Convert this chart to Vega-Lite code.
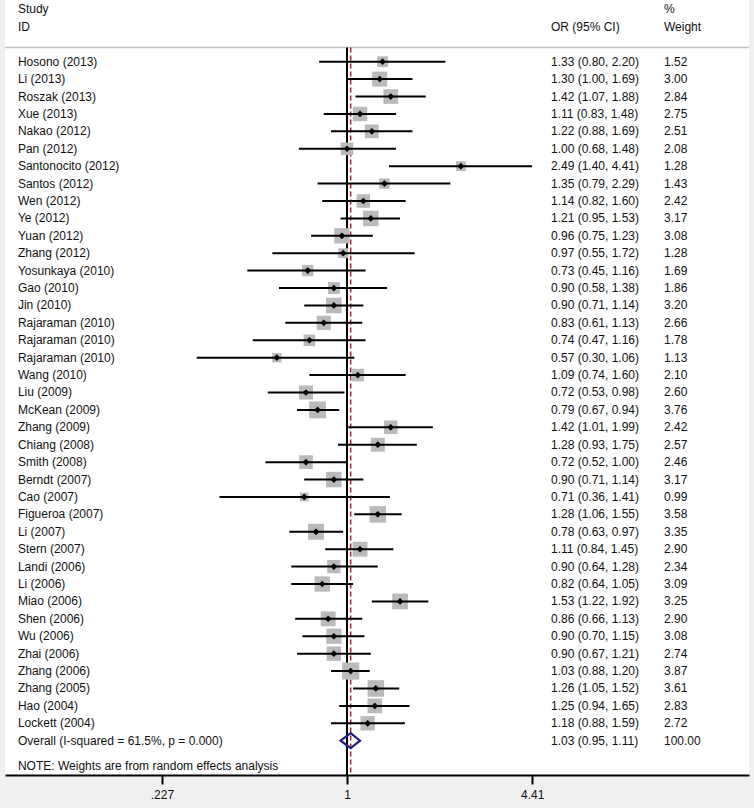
{
  "$schema": "https://vega.github.io/schema/vega-lite/v6.json",
  "width": 744,
  "height": 775,
  "autosize": {"type": "none"},
  "padding": {"left": 5, "top": 0, "right": 5, "bottom": 33},
  "background": "#f0f0f0",
  "config": {
    "view": {"fill": "white", "stroke": null},
    "font": "Liberation Sans",
    "text": {"font": "Liberation Sans", "fontSize": 12, "color": "#111111", "baseline": "middle", "align": "left"}
  },
  "datasets": {
    "rows": [
      {"study": "Hosono (2013)", "row": 0, "or": 1.33, "lo": 0.80, "hi": 2.20, "w": 1.52, "ci": "1.33 (0.80, 2.20)", "wt": "1.52", "kind": "study"},
      {"study": "Li (2013)", "row": 1, "or": 1.30, "lo": 1.00, "hi": 1.69, "w": 3.00, "ci": "1.30 (1.00, 1.69)", "wt": "3.00", "kind": "study"},
      {"study": "Roszak (2013)", "row": 2, "or": 1.42, "lo": 1.07, "hi": 1.88, "w": 2.84, "ci": "1.42 (1.07, 1.88)", "wt": "2.84", "kind": "study"},
      {"study": "Xue (2013)", "row": 3, "or": 1.11, "lo": 0.83, "hi": 1.48, "w": 2.75, "ci": "1.11 (0.83, 1.48)", "wt": "2.75", "kind": "study"},
      {"study": "Nakao (2012)", "row": 4, "or": 1.22, "lo": 0.88, "hi": 1.69, "w": 2.51, "ci": "1.22 (0.88, 1.69)", "wt": "2.51", "kind": "study"},
      {"study": "Pan (2012)", "row": 5, "or": 1.00, "lo": 0.68, "hi": 1.48, "w": 2.08, "ci": "1.00 (0.68, 1.48)", "wt": "2.08", "kind": "study"},
      {"study": "Santonocito (2012)", "row": 6, "or": 2.49, "lo": 1.40, "hi": 4.41, "w": 1.28, "ci": "2.49 (1.40, 4.41)", "wt": "1.28", "kind": "study"},
      {"study": "Santos (2012)", "row": 7, "or": 1.35, "lo": 0.79, "hi": 2.29, "w": 1.43, "ci": "1.35 (0.79, 2.29)", "wt": "1.43", "kind": "study"},
      {"study": "Wen (2012)", "row": 8, "or": 1.14, "lo": 0.82, "hi": 1.60, "w": 2.42, "ci": "1.14 (0.82, 1.60)", "wt": "2.42", "kind": "study"},
      {"study": "Ye (2012)", "row": 9, "or": 1.21, "lo": 0.95, "hi": 1.53, "w": 3.17, "ci": "1.21 (0.95, 1.53)", "wt": "3.17", "kind": "study"},
      {"study": "Yuan (2012)", "row": 10, "or": 0.96, "lo": 0.75, "hi": 1.23, "w": 3.08, "ci": "0.96 (0.75, 1.23)", "wt": "3.08", "kind": "study"},
      {"study": "Zhang (2012)", "row": 11, "or": 0.97, "lo": 0.55, "hi": 1.72, "w": 1.28, "ci": "0.97 (0.55, 1.72)", "wt": "1.28", "kind": "study"},
      {"study": "Yosunkaya (2010)", "row": 12, "or": 0.73, "lo": 0.45, "hi": 1.16, "w": 1.69, "ci": "0.73 (0.45, 1.16)", "wt": "1.69", "kind": "study"},
      {"study": "Gao (2010)", "row": 13, "or": 0.90, "lo": 0.58, "hi": 1.38, "w": 1.86, "ci": "0.90 (0.58, 1.38)", "wt": "1.86", "kind": "study"},
      {"study": "Jin (2010)", "row": 14, "or": 0.90, "lo": 0.71, "hi": 1.14, "w": 3.20, "ci": "0.90 (0.71, 1.14)", "wt": "3.20", "kind": "study"},
      {"study": "Rajaraman (2010)", "row": 15, "or": 0.83, "lo": 0.61, "hi": 1.13, "w": 2.66, "ci": "0.83 (0.61, 1.13)", "wt": "2.66", "kind": "study"},
      {"study": "Rajaraman (2010)", "row": 16, "or": 0.74, "lo": 0.47, "hi": 1.16, "w": 1.78, "ci": "0.74 (0.47, 1.16)", "wt": "1.78", "kind": "study"},
      {"study": "Rajaraman (2010)", "row": 17, "or": 0.57, "lo": 0.30, "hi": 1.06, "w": 1.13, "ci": "0.57 (0.30, 1.06)", "wt": "1.13", "kind": "study"},
      {"study": "Wang (2010)", "row": 18, "or": 1.09, "lo": 0.74, "hi": 1.60, "w": 2.10, "ci": "1.09 (0.74, 1.60)", "wt": "2.10", "kind": "study"},
      {"study": "Liu (2009)", "row": 19, "or": 0.72, "lo": 0.53, "hi": 0.98, "w": 2.60, "ci": "0.72 (0.53, 0.98)", "wt": "2.60", "kind": "study"},
      {"study": "McKean (2009)", "row": 20, "or": 0.79, "lo": 0.67, "hi": 0.94, "w": 3.76, "ci": "0.79 (0.67, 0.94)", "wt": "3.76", "kind": "study"},
      {"study": "Zhang (2009)", "row": 21, "or": 1.42, "lo": 1.01, "hi": 1.99, "w": 2.42, "ci": "1.42 (1.01, 1.99)", "wt": "2.42", "kind": "study"},
      {"study": "Chiang (2008)", "row": 22, "or": 1.28, "lo": 0.93, "hi": 1.75, "w": 2.57, "ci": "1.28 (0.93, 1.75)", "wt": "2.57", "kind": "study"},
      {"study": "Smith (2008)", "row": 23, "or": 0.72, "lo": 0.52, "hi": 1.00, "w": 2.46, "ci": "0.72 (0.52, 1.00)", "wt": "2.46", "kind": "study"},
      {"study": "Berndt (2007)", "row": 24, "or": 0.90, "lo": 0.71, "hi": 1.14, "w": 3.17, "ci": "0.90 (0.71, 1.14)", "wt": "3.17", "kind": "study"},
      {"study": "Cao (2007)", "row": 25, "or": 0.71, "lo": 0.36, "hi": 1.41, "w": 0.99, "ci": "0.71 (0.36, 1.41)", "wt": "0.99", "kind": "study"},
      {"study": "Figueroa (2007)", "row": 26, "or": 1.28, "lo": 1.06, "hi": 1.55, "w": 3.58, "ci": "1.28 (1.06, 1.55)", "wt": "3.58", "kind": "study"},
      {"study": "Li (2007)", "row": 27, "or": 0.78, "lo": 0.63, "hi": 0.97, "w": 3.35, "ci": "0.78 (0.63, 0.97)", "wt": "3.35", "kind": "study"},
      {"study": "Stern (2007)", "row": 28, "or": 1.11, "lo": 0.84, "hi": 1.45, "w": 2.90, "ci": "1.11 (0.84, 1.45)", "wt": "2.90", "kind": "study"},
      {"study": "Landi (2006)", "row": 29, "or": 0.90, "lo": 0.64, "hi": 1.28, "w": 2.34, "ci": "0.90 (0.64, 1.28)", "wt": "2.34", "kind": "study"},
      {"study": "Li (2006)", "row": 30, "or": 0.82, "lo": 0.64, "hi": 1.05, "w": 3.09, "ci": "0.82 (0.64, 1.05)", "wt": "3.09", "kind": "study"},
      {"study": "Miao (2006)", "row": 31, "or": 1.53, "lo": 1.22, "hi": 1.92, "w": 3.25, "ci": "1.53 (1.22, 1.92)", "wt": "3.25", "kind": "study"},
      {"study": "Shen (2006)", "row": 32, "or": 0.86, "lo": 0.66, "hi": 1.13, "w": 2.90, "ci": "0.86 (0.66, 1.13)", "wt": "2.90", "kind": "study"},
      {"study": "Wu (2006)", "row": 33, "or": 0.90, "lo": 0.70, "hi": 1.15, "w": 3.08, "ci": "0.90 (0.70, 1.15)", "wt": "3.08", "kind": "study"},
      {"study": "Zhai (2006)", "row": 34, "or": 0.90, "lo": 0.67, "hi": 1.21, "w": 2.74, "ci": "0.90 (0.67, 1.21)", "wt": "2.74", "kind": "study"},
      {"study": "Zhang (2006)", "row": 35, "or": 1.03, "lo": 0.88, "hi": 1.20, "w": 3.87, "ci": "1.03 (0.88, 1.20)", "wt": "3.87", "kind": "study"},
      {"study": "Zhang (2005)", "row": 36, "or": 1.26, "lo": 1.05, "hi": 1.52, "w": 3.61, "ci": "1.26 (1.05, 1.52)", "wt": "3.61", "kind": "study"},
      {"study": "Hao (2004)", "row": 37, "or": 1.25, "lo": 0.94, "hi": 1.65, "w": 2.83, "ci": "1.25 (0.94, 1.65)", "wt": "2.83", "kind": "study"},
      {"study": "Lockett (2004)", "row": 38, "or": 1.18, "lo": 0.88, "hi": 1.59, "w": 2.72, "ci": "1.18 (0.88, 1.59)", "wt": "2.72", "kind": "study"},
      {"study": "Overall  (I-squared = 61.5%, p = 0.000)", "row": 39, "or": 1.03, "lo": 0.95, "hi": 1.11, "w": 100.0, "ci": "1.03 (0.95, 1.11)", "wt": "100.00", "kind": "overall"}
    ],
    "headLeft": [{"t": "Study", "row": -3}, {"t": "ID", "row": -2}],
    "headMid": [{"t": "OR (95% CI)", "row": -2}],
    "headRight": [{"t": "%", "row": -3}, {"t": "Weight", "row": -2}],
    "note": [{"t": "NOTE: Weights are from random effects analysis", "row": 40.43}],
    "refs": [{"ref": 1, "top": -0.816, "bottom": 40.97}],
    "pooled": [{"ref": 1.03, "top": -0.816, "bottom": 40.97}],
    "sep": [{"row": -0.816}]
  },
  "layer": [
    {
      "data": {"name": "sep"},
      "mark": {"type": "rule", "color": "#c4c4c4", "strokeWidth": 1.5},
      "encoding": {
        "y": {"field": "row", "type": "quantitative", "axis": null,
              "scale": {"domain": [-3.544, 40.97], "reverse": true, "nice": false, "zero": false}}
      }
    },
    {
      "data": {"name": "refs"},
      "mark": {"type": "rule", "color": "black", "strokeWidth": 2},
      "encoding": {
        "x": {"field": "ref", "type": "quantitative",
              "scale": {"type": "log", "domain": [0.06455, 25.06], "nice": false},
              "axis": {"values": [0.227, 1, 4.41], "title": null, "grid": false,
                       "labelExpr": "datum.value == 0.227 ? '.227' : datum.value == 1 ? '1' : '4.41'",
                       "domainColor": "black", "domainWidth": 2, "tickColor": "black", "tickWidth": 2, "tickSize": 9,
                       "labelFont": "Liberation Sans", "labelFontSize": 12, "labelColor": "#111111", "labelPadding": 5,
                       "labelFlush": false, "labelOverlap": false}},
        "y": {"field": "top", "type": "quantitative", "axis": null},
        "y2": {"field": "bottom"}
      }
    },
    {
      "data": {"name": "pooled"},
      "mark": {"type": "rule", "color": "#a3262e", "strokeWidth": 1.5, "strokeDash": [5, 3]},
      "encoding": {
        "x": {"field": "ref", "type": "quantitative"},
        "y": {"field": "top", "type": "quantitative", "axis": null},
        "y2": {"field": "bottom"}
      }
    },
    {
      "data": {"name": "rows"},
      "transform": [{"filter": "datum.kind == 'study'"}],
      "mark": {"type": "point", "shape": "square", "filled": true, "color": "#bababa", "opacity": 1},
      "encoding": {
        "x": {"field": "or", "type": "quantitative"},
        "y": {"field": "row", "type": "quantitative", "axis": null},
        "size": {"field": "w", "type": "quantitative", "legend": null,
                 "scale": {"type": "linear", "domain": [0, 4], "range": [0, 303]}}
      }
    },
    {
      "data": {"name": "rows"},
      "transform": [{"filter": "datum.kind == 'study'"}],
      "mark": {"type": "rule", "color": "black", "strokeWidth": 2},
      "encoding": {
        "x": {"field": "lo", "type": "quantitative"},
        "x2": {"field": "hi"},
        "y": {"field": "row", "type": "quantitative", "axis": null}
      }
    },
    {
      "data": {"name": "rows"},
      "transform": [{"filter": "datum.kind == 'study'"}],
      "mark": {"type": "point", "shape": "diamond", "filled": true, "color": "black", "opacity": 1, "size": 45},
      "encoding": {
        "x": {"field": "or", "type": "quantitative"},
        "y": {"field": "row", "type": "quantitative", "axis": null}
      }
    },
    {
      "data": {"name": "rows"},
      "transform": [{"filter": "datum.kind == 'overall'"}],
      "mark": {"type": "point", "shape": "M-1.04,0L0,-0.77L0.96,0L0,0.77Z", "filled": false,
               "stroke": "#1f1f80", "strokeWidth": 2.2, "opacity": 1, "size": 376},
      "encoding": {
        "x": {"field": "or", "type": "quantitative"},
        "y": {"field": "row", "type": "quantitative", "axis": null}
      }
    },
    {
      "data": {"name": "rows"},
      "mark": {"type": "text"},
      "encoding": {
        "x": {"datum": 0.0716, "type": "quantitative"},
        "y": {"field": "row", "type": "quantitative", "axis": null},
        "text": {"field": "study"}
      }
    },
    {
      "data": {"name": "rows"},
      "mark": {"type": "text"},
      "encoding": {
        "x": {"datum": 5.127, "type": "quantitative"},
        "y": {"field": "row", "type": "quantitative", "axis": null},
        "text": {"field": "ci"}
      }
    },
    {
      "data": {"name": "rows"},
      "mark": {"type": "text"},
      "encoding": {
        "x": {"datum": 12.68, "type": "quantitative"},
        "y": {"field": "row", "type": "quantitative", "axis": null},
        "text": {"field": "wt"}
      }
    },
    {
      "data": {"name": "headLeft"},
      "mark": {"type": "text"},
      "encoding": {
        "x": {"datum": 0.0716, "type": "quantitative"},
        "y": {"field": "row", "type": "quantitative", "axis": null},
        "text": {"field": "t"}
      }
    },
    {
      "data": {"name": "headMid"},
      "mark": {"type": "text"},
      "encoding": {
        "x": {"datum": 5.127, "type": "quantitative"},
        "y": {"field": "row", "type": "quantitative", "axis": null},
        "text": {"field": "t"}
      }
    },
    {
      "data": {"name": "headRight"},
      "mark": {"type": "text"},
      "encoding": {
        "x": {"datum": 12.68, "type": "quantitative"},
        "y": {"field": "row", "type": "quantitative", "axis": null},
        "text": {"field": "t"}
      }
    },
    {
      "data": {"name": "note"},
      "mark": {"type": "text"},
      "encoding": {
        "x": {"datum": 0.0716, "type": "quantitative"},
        "y": {"field": "row", "type": "quantitative", "axis": null},
        "text": {"field": "t"}
      }
    }
  ]
}
